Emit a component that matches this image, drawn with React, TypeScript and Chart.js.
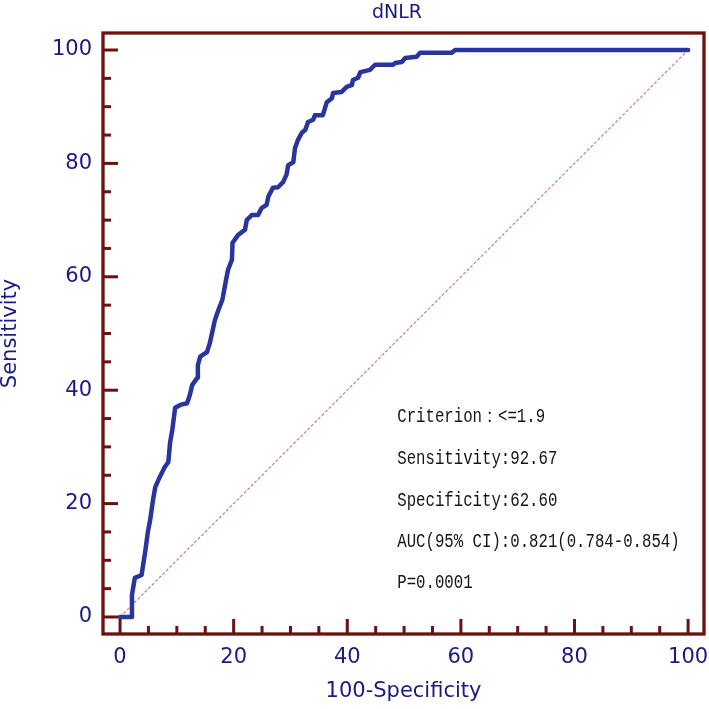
import React, { useEffect, useRef } from 'react';
import { Chart, registerables } from 'chart.js';

Chart.register(...registerables);

// ROC curve (100-Specificity, Sensitivity)
const rocX = [
  0, 2.0, 2.1, 2.6, 3.8, 4.0, 4.4, 4.9, 5.3, 5.8, 6.2, 7.0, 7.9, 8.5, 8.8, 9.2, 9.7, 10.6, 11.8, 12.3,
  12.7, 13.6, 13.7, 14.1, 15.3, 15.8, 16.2, 16.7, 17.3, 18.0, 18.5, 19.0, 19.7, 19.8, 20.8, 22.0, 22.3,
  23.2, 24.3, 24.9, 25.8, 26.1, 26.9, 27.8, 28.7, 29.3, 29.6, 30.5, 30.8, 31.3, 32.0, 32.6, 33.1, 34.0,
  34.3, 35.7, 36.4, 37.3, 37.5, 39.0, 39.9, 40.8, 41.0, 41.9, 42.3, 44.0, 44.5, 44.9, 48.1, 48.4, 49.6,
  50.2, 52.2, 52.8, 58.4, 59.0, 100,
];
const rocY = [
  0, 0, 3.9, 6.9, 7.4, 8.8, 11.3, 15.0, 17.1, 20.6, 22.9, 24.7, 26.5, 27.3, 30.7, 33.0, 36.9, 37.4, 37.7, 39.2,
  40.9, 42.2, 44.4, 45.9, 46.7, 48.3, 50.1, 52.4, 54.1, 55.9, 58.6, 61.2, 63.0, 66.0, 67.4, 68.3, 70.0,
  70.9, 70.9, 72.1, 72.7, 74.1, 75.7, 75.8, 76.7, 78.0, 79.7, 80.2, 82.7, 84.1, 85.4, 85.9, 87.3, 87.7,
  88.5, 88.5, 90.8, 91.5, 92.4, 92.6, 93.5, 93.8, 94.7, 95.1, 96.1, 96.5, 97.0, 97.4, 97.4, 97.7, 97.9,
  98.6, 98.8, 99.5, 99.5, 100, 100,
];

// Reference diagonal
const refX = [0, 100];
const refY = [0, 100];

const xTicks = [0, 20, 40, 60, 80, 100];
const yTicks = [0, 20, 40, 60, 80, 100];
const minorStep = 5;

const chartTitle = 'dNLR';
const xTitle = '100-Specificity';
const yTitle = 'Sensitivity';

const annotLines = [
  'Criterion：<=1.9',
  'Sensitivity:92.67',
  'Specificity:62.60',
  'AUC(95% CI):0.821(0.784-0.854)',
  'P=0.0001',
];

const FRAME = 'rgb(108,16,16)';
const NAVY = 'rgb(26,26,130)';
const ROC = 'rgb(42,52,158)';

const framePlugin = {
  id: 'frameTicks',
  afterDraw(chart: any) {
    const { ctx, chartArea: a, scales } = chart;
    const xs = scales.x;
    const ys = scales.y;
    ctx.save();
    // ticks (inward)
    ctx.strokeStyle = FRAME;
    ctx.lineWidth = 3;
    ctx.lineCap = 'butt';
    const x0 = xTicks[0], x1 = xTicks[xTicks.length - 1];
    for (let v = x0; v <= x1 + 1e-9; v += minorStep) {
      const major = xTicks.includes(v);
      const len = major ? 15 : 8;
      const px = xs.getPixelForValue(v);
      ctx.beginPath();
      ctx.moveTo(px, a.bottom);
      ctx.lineTo(px, a.bottom - len);
      ctx.stroke();
    }
    const y0 = yTicks[0], y1 = yTicks[yTicks.length - 1];
    for (let v = y0; v <= y1 + 1e-9; v += minorStep) {
      const major = yTicks.includes(v);
      const len = major ? 15 : 8;
      const py = ys.getPixelForValue(v);
      ctx.beginPath();
      ctx.moveTo(a.left, py);
      ctx.lineTo(a.left + len, py);
      ctx.stroke();
    }
    // frame
    ctx.lineWidth = 3.3;
    ctx.strokeRect(a.left, a.top, a.right - a.left, a.bottom - a.top);

    // title
    ctx.fillStyle = NAVY;
    ctx.font = '19px "DejaVu Sans"';
    ctx.textAlign = 'center';
    ctx.textBaseline = 'alphabetic';
    ctx.fillText(chartTitle, 397, 18);

    // annotation
    ctx.fillStyle = '#151515';
    ctx.font = '15.7px "Liberation Mono"';
    ctx.textAlign = 'left';
    ctx.textBaseline = 'middle';
    const annX = 48.8;
    const annY = [35.3, 28.0, 20.6, 13.3, 6.05];
    annotLines.forEach((t, i) => {
      const px = xs.getPixelForValue(annX);
      const py = ys.getPixelForValue(annY[i]);
      ctx.save();
      ctx.translate(px, py);
      ctx.scale(1, 1.3);
      ctx.fillText(t, 0, 0);
      ctx.restore();
    });
    ctx.restore();
  },
};

export default function App() {
  const ref = useRef<HTMLCanvasElement | null>(null);
  useEffect(() => {
    if (!ref.current) return;
    const tickFont = { family: '"DejaVu Sans"', size: 21 };
    const chart = new Chart(ref.current, {
      type: 'scatter',
      data: {
        datasets: [
          {
            label: 'ROC',
            data: rocX.map((x, i) => ({ x, y: rocY[i] })),
            showLine: true,
            borderColor: ROC,
            borderWidth: 4.5,
            pointRadius: 0,
            tension: 0,
            borderJoinStyle: 'round',
            borderCapStyle: 'round',
          } as any,
          {
            label: 'Reference',
            data: refX.map((x, i) => ({ x, y: refY[i] })),
            showLine: true,
            borderColor: 'rgba(200,110,110,0.9)',
            borderWidth: 1.2,
            borderDash: [3, 2],
            pointRadius: 0,
          } as any,
        ],
      },
      options: {
        animation: false,
        responsive: true,
        maintainAspectRatio: false,
        layout: { padding: { top: 33, right: 5, left: 0, bottom: 0 } },
        plugins: {
          legend: { display: false },
          tooltip: { enabled: false },
          title: { display: false },
        },
        scales: {
          x: {
            type: 'linear',
            min: -3,
            max: 102.8,
            afterBuildTicks: (s: any) => {
              s.ticks = xTicks.map((v) => ({ value: v }));
            },
            afterFit: (s: any) => {
              s.height = 75;
              s.paddingLeft = 0;
              s.paddingRight = 0;
            },
            grid: { display: false, drawTicks: false },
            border: { display: false },
            ticks: { color: NAVY, font: tickFont, padding: 11, maxRotation: 0, autoSkip: false },
            title: {
              display: true,
              text: xTitle,
              color: NAVY,
              font: { family: '"DejaVu Sans"', size: 21 },
              padding: { top: 0, bottom: 5 },
            },
          },
          y: {
            type: 'linear',
            min: -3,
            max: 103,
            afterBuildTicks: (s: any) => {
              s.ticks = yTicks.map((v) => ({ value: v }));
            },
            afterFit: (s: any) => {
              s.width = 103;
              s.paddingTop = 0;
              s.paddingBottom = 0;
            },
            grid: { display: false, drawTicks: false },
            border: { display: false },
            ticks: { color: NAVY, font: tickFont, padding: 11, autoSkip: false },
            title: {
              display: true,
              text: yTitle,
              color: NAVY,
              font: { family: '"DejaVu Sans"', size: 21, lineHeight: 1.05 },
              padding: { top: 0, bottom: 0 },
            },
          },
        },
      },
      plugins: [framePlugin],
    } as any);
    return () => chart.destroy();
  }, []);
  return (
    <div style={{ position: 'absolute', left: 0, top: 0, width: 709, height: 709, background: '#fff' }}>
      <canvas ref={ref} />
    </div>
  );
}
